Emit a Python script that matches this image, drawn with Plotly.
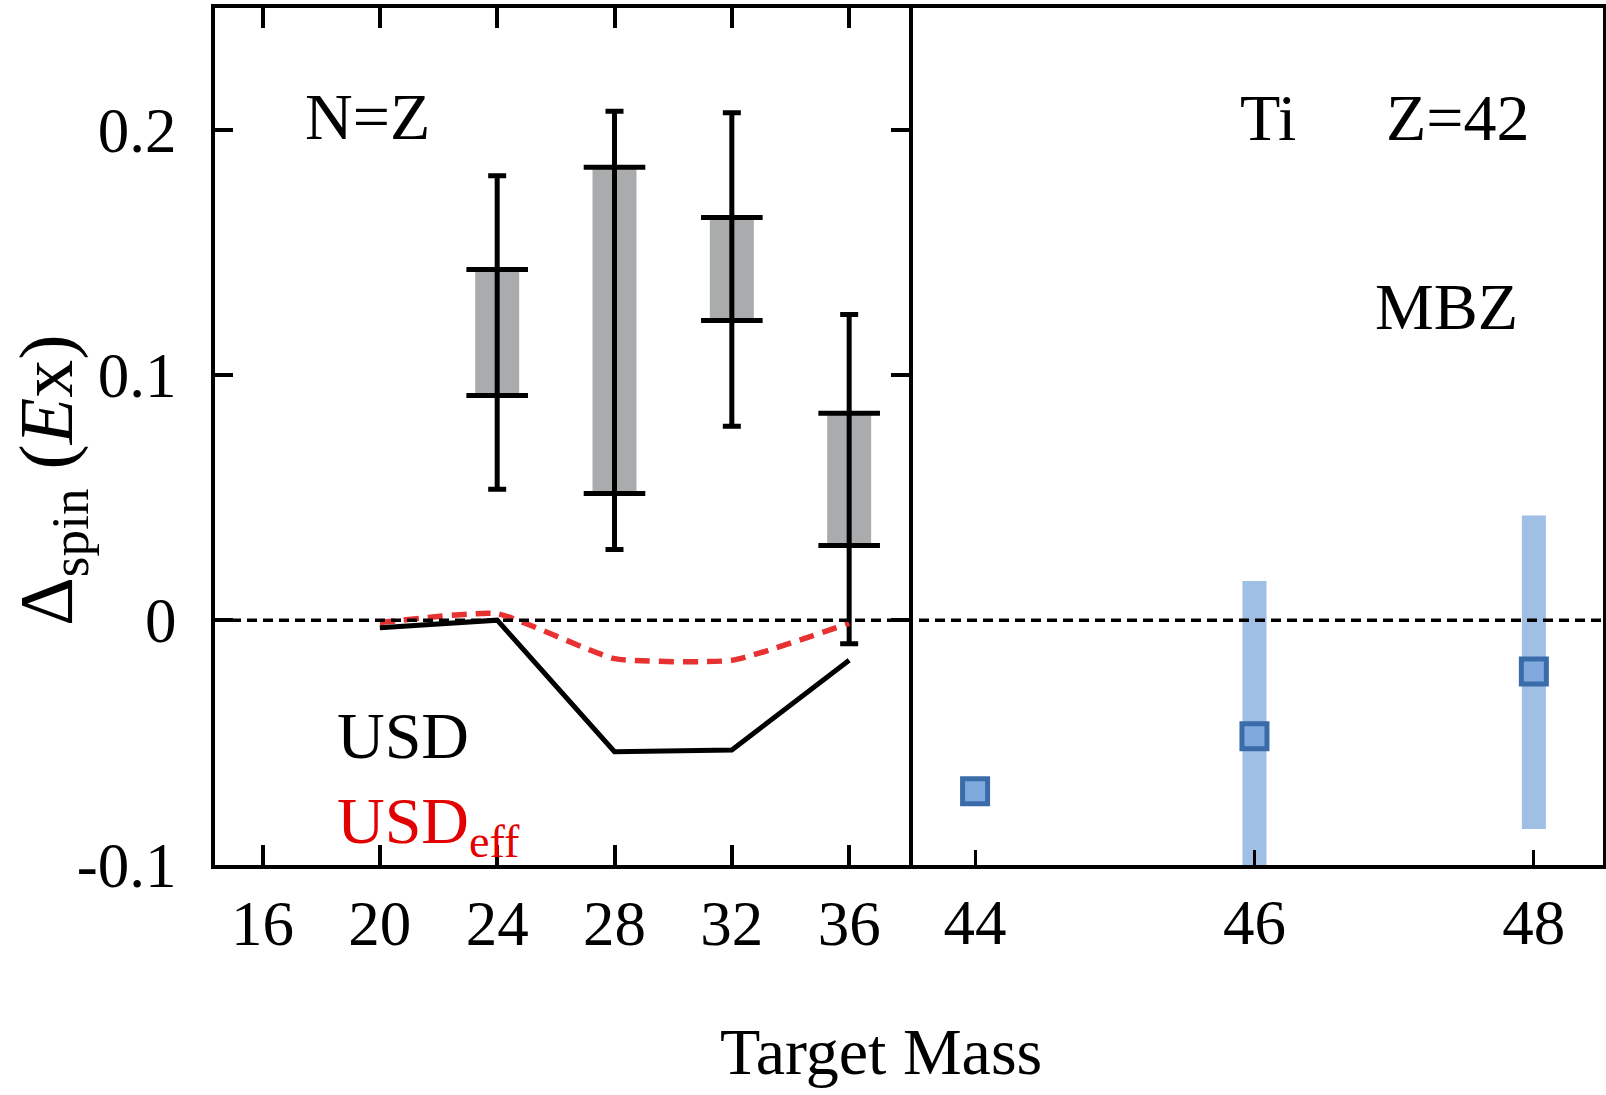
import plotly.graph_objects as go

# ---------------- data ----------------
# Left panel: N=Z nuclei (gray boxes + error whiskers)
nz_mass = [24, 28, 32, 36]
nz_box_lo = [0.0917, 0.0517, 0.1224, 0.0305]
nz_box_hi = [0.1432, 0.1850, 0.1644, 0.0845]
nz_err_lo = [0.0535, 0.0288, 0.0792, -0.0096]
nz_err_hi = [0.1815, 0.2078, 0.2072, 0.1248]

# Shell-model curves
usd_mass = [20, 24, 28, 32, 36]
usd_vals = [-0.0031, 0.0000, -0.0537, -0.0530, -0.0164]
usdeff_vals = [-0.0010, 0.0026, -0.0157, -0.0164, -0.0013]

# Right panel: Ti isotopes (MBZ)
ti_mass = [44, 46, 48]
ti_vals = [-0.0699, -0.0474, -0.0210]
ti_band_mass = [46, 48]
ti_band_lo = [-0.1100, -0.0853]
ti_band_hi = [0.0160, 0.0427]

x_ticks_left = [16, 20, 24, 28, 32, 36]
x_ticks_right = [44, 46, 48]
y_ticks = [-0.1, 0, 0.1, 0.2]
y_ticktext = ["-0.1", "0", "0.1", "0.2"]

FONT = "Liberation Serif"
TICK_SIZE = 63
TEXT_SIZE = 66

fig = go.Figure()

# gray boxes
fig.add_trace(go.Bar(
    x=nz_mass, base=nz_box_lo,
    y=[h - l for h, l in zip(nz_box_hi, nz_box_lo)],
    width=1.5, marker=dict(color="rgb(170,171,173)", line=dict(width=0)),
    xaxis="x", yaxis="y", showlegend=False, hoverinfo="skip"))

# whiskers
mid = [(h + l) / 2 for h, l in zip(nz_box_hi, nz_box_lo)]
fig.add_trace(go.Scatter(
    x=nz_mass, y=mid, mode="markers",
    marker=dict(size=1, color="rgba(0,0,0,0)"),
    error_y=dict(type="data", symmetric=False,
                 array=[h - m for h, m in zip(nz_err_hi, mid)],
                 arrayminus=[m - l for m, l in zip(mid, nz_err_lo)],
                 color="black", thickness=5, width=9),
    xaxis="x", yaxis="y", showlegend=False, hoverinfo="skip"))

# box edges
fig.add_trace(go.Scatter(
    x=nz_mass + nz_mass, y=nz_box_lo + nz_box_hi, mode="markers",
    marker=dict(symbol="line-ew", size=44, line=dict(width=5, color="black")),
    xaxis="x", yaxis="y", showlegend=False, hoverinfo="skip"))

# USD curves
fig.add_trace(go.Scatter(
    x=usd_mass, y=usdeff_vals, mode="lines",
    line=dict(color="rgb(232,50,50)", width=5.5, dash="15px,9px", shape="spline", smoothing=0.45),
    xaxis="x", yaxis="y", showlegend=False, hoverinfo="skip"))
fig.add_trace(go.Scatter(
    x=usd_mass, y=usd_vals, mode="lines",
    line=dict(color="black", width=5),
    xaxis="x", yaxis="y", showlegend=False, hoverinfo="skip"))

# Ti bands
fig.add_trace(go.Bar(
    x=ti_band_mass, base=ti_band_lo,
    y=[h - l for h, l in zip(ti_band_hi, ti_band_lo)],
    width=0.172, marker=dict(color="rgb(160,191,228)", line=dict(width=0)),
    xaxis="x2", yaxis="y2", showlegend=False, hoverinfo="skip"))

# Ti points
fig.add_trace(go.Scatter(
    x=ti_mass, y=ti_vals, mode="markers",
    marker=dict(symbol="square", size=25, color="rgb(128,170,222)",
                line=dict(width=5, color="rgb(58,108,170)")),
    xaxis="x2", yaxis="y2", showlegend=False, hoverinfo="skip"))

tickfont = dict(family=FONT, size=TICK_SIZE, color="black")
yr = [-0.1, 0.25]

fig.update_layout(
    width=1606, height=1095,
    margin=dict(l=215, r=3, t=8, b=230),
    paper_bgcolor="white", plot_bgcolor="white",
    barmode="overlay",
    xaxis=dict(domain=[0, 0.5], range=[14.38, 38.04], tickvals=x_ticks_left,
               ticks="inside", ticklen=20, tickwidth=3.5, tickcolor="black",
               showline=True, linewidth=4, linecolor="black", mirror="ticks",
               showgrid=False, zeroline=False, tickfont=tickfont,
               ticklabelstandoff=0, anchor="y"),
    yaxis=dict(domain=[0, 1], range=yr, tickvals=y_ticks, ticktext=y_ticktext,
               ticks="inside", ticklen=18, tickwidth=3.5, tickcolor="black",
               showline=True, linewidth=4, linecolor="black", mirror="ticks",
               showgrid=False, zeroline=False, tickfont=tickfont,
               ticklabelstandoff=22, anchor="x"),
    xaxis2=dict(domain=[0.5, 1], range=[43.527, 48.495], tickvals=x_ticks_right,
                ticks="inside", ticklen=15, tickwidth=3, tickcolor="black",
                showline=True, linewidth=3.5, linecolor="black", mirror=True,
                showgrid=False, zeroline=False, tickfont=tickfont,
                ticklabelstandoff=0, anchor="y2"),
    yaxis2=dict(domain=[0, 1], range=yr, showticklabels=False, ticks="",
                side="right", showline=True, linewidth=3.5, linecolor="black",
                mirror=False, showgrid=False, zeroline=False, anchor="x2"),
    shapes=[dict(type="line", xref="paper", yref="y", x0=0, x1=1, y0=0, y1=0,
                 line=dict(color="black", width=3.5, dash="10px,6px"), layer="above")],
)

txt = dict(family=FONT, size=TEXT_SIZE, color="black")
ann = [
    dict(text="N=Z", x=19.59, y=0.2058, xref="x", yref="y", showarrow=False,
         font=txt, xanchor="center", yanchor="middle"),
    dict(text="USD", x=18.47, y=-0.047, xref="x", yref="y", showarrow=False,
         font=txt, xanchor="left", yanchor="middle"),
    dict(text="USD<sub>eff</sub>", x=18.47, y=-0.084, xref="x", yref="y", showarrow=False,
         font=dict(family=FONT, size=TEXT_SIZE, color="rgb(226,0,0)"),
         xanchor="left", yanchor="middle"),
    dict(text="Ti", x=46.10, y=0.2054, xref="x2", yref="y2", showarrow=False,
         font=txt, xanchor="center", yanchor="middle"),
    dict(text="Z=42", x=47.455, y=0.2054, xref="x2", yref="y2", showarrow=False,
         font=txt, xanchor="center", yanchor="middle"),
    dict(text="MBZ", x=47.377, y=0.1282, xref="x2", yref="y2", showarrow=False,
         font=txt, xanchor="center", yanchor="middle"),
    dict(text="Target Mass", x=(881 - 215) / 1388, y=-(1051 - 865) / 857,
         xref="paper", yref="paper", showarrow=False, font=txt,
         xanchor="center", yanchor="middle"),
    dict(text="Δ<sub>spin</sub> (<i>E</i>x)", x=(52 - 215) / 1388, y=(865 - 480) / 857,
         xref="paper", yref="paper", showarrow=False,
         font=dict(family=FONT, size=76, color="black"), textangle=-90,
         xanchor="center", yanchor="middle"),
]
fig.update_layout(annotations=ann)

fig.write_html("out.html")
